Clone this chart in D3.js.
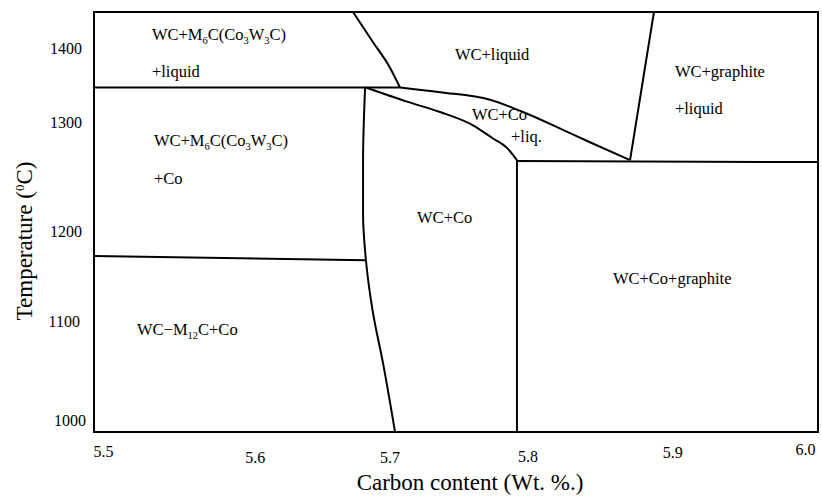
<!DOCTYPE html>
<html>
<head>
<meta charset="utf-8">
<script src="https://cdn.jsdelivr.net/npm/d3@7"></script>
<style>
  body { margin: 0; background: #fff; }
</style>
</head>
<body>
<div id="chart"></div>
<script>
const width = 822;
const height = 496;
const margin = { top: 12, right: 4, bottom: 64, left: 94 };
const serif = "'Liberation Serif', 'Times New Roman', serif";

// Axis ticks
const xTicks = [5.5, 5.6, 5.7, 5.8, 5.9, 6.0];
const yTicks = [1000, 1100, 1200, 1300, 1400];

// Phase boundaries, [carbon wt.%, temperature °C]
const eutecticLeft = [[5.5, 1350], [5.7113, 1350]];
const liquidusLeft = [[5.6789, 1430], [5.6927, 1398], [5.7044, 1371], [5.7113, 1350]];
const liquidusUpper = [[5.7113, 1350], [5.7390, 1345], [5.7735, 1337], [5.7963, 1324],
                       [5.8198, 1308], [5.8425, 1292], [5.8702, 1273]];
const liquidusLower = [[5.6878, 1350], [5.7162, 1335], [5.7390, 1324], [5.7617, 1310],
                       [5.7756, 1296], [5.7852, 1286], [5.7921, 1273]];
const solvusLeft = [[5.6872, 1350], [5.6858, 1270], [5.6858, 1217], [5.6878, 1167],
                    [5.6927, 1111], [5.6996, 1058], [5.7079, 985]];
const m12cLine = [[5.5, 1171.5], [5.6878, 1167]];
const graphiteVertical = [[5.7921, 1273], [5.7921, 985]];
const graphiteHorizontal = [[5.7921, 1272], [6.0, 1271]];
const graphiteLiquidus = [[5.8702, 1273], [5.8867, 1430]];

const curvedX = [liquidusLeft, liquidusUpper, liquidusLower];
const curvedY = [solvusLeft];
const straight = [eutecticLeft, m12cLine, graphiteVertical, graphiteHorizontal, graphiteLiquidus];

// Region labels: text (_n = subscript), carbon, temperature
const labelText = ["WC+M_6C(Co_3W_3C)", "+liquid", "WC+M_6C(Co_3W_3C)", "+Co",
                   "WC+liquid", "WC+Co", "+liq.", "WC+graphite", "+liquid",
                   "WC+Co", "WC+Co+graphite", "WC\u2212M_12C+Co"];
const labelC = [5.540, 5.540, 5.5414, 5.5414, 5.7493, 5.7610, 5.7880, 5.9012, 5.9012,
                5.7231, 5.8584, 5.5297];
const labelT = [1400, 1361, 1288, 1248, 1379, 1316, 1292, 1361, 1322, 1206, 1142, 1088];

// per-tick label nudges (the source figure's labels are hand placed)
const xTickNudge = [[9, 0], [16, 6], [6, 6], [-1, 5], [-1, 1], [-13, -2]];
const yTickNudge = [[4, 3], [-2, -1.6], [0, 2.8], [0, -12.8], [0, 7.6]];

const x = d3.scaleLinear().domain([5.5, 6.0]).range([margin.left, width - margin.right]);
const y = d3.scaleLinear().domain([985, 1430]).range([height - margin.bottom, margin.top]);

const svg = d3.create("svg")
    .attr("width", width)
    .attr("height", height)
    .attr("font-family", serif);

// Boundaries
const lineX = d3.line().x(d => x(d[0])).y(d => y(d[1])).curve(d3.curveMonotoneX);
const lineY = d3.line().x(d => x(d[0])).y(d => y(d[1])).curve(d3.curveMonotoneY);
const lineStraight = d3.line().x(d => x(d[0])).y(d => y(d[1]));

const boundaries = svg.append("g")
    .attr("fill", "none")
    .attr("stroke", "#000")
    .attr("stroke-width", 2);

boundaries.selectAll("path.cx").data(curvedX).join("path").attr("class", "cx").attr("d", lineX);
boundaries.selectAll("path.cy").data(curvedY).join("path").attr("class", "cy").attr("d", lineY);
boundaries.selectAll("path.st").data(straight).join("path").attr("class", "st").attr("d", lineStraight);

// Frame
boundaries.append("rect")
    .attr("x", x(5.5))
    .attr("y", y(1430))
    .attr("width", x(6.0) - x(5.5))
    .attr("height", y(985) - y(1430));

// Axes
const xAxis = svg.append("g")
    .attr("transform", `translate(0,${y(985)})`)
    .call(d3.axisBottom(x).tickValues(xTicks).tickFormat(d3.format(".1f")).tickSize(0).tickPadding(14))
    .attr("font-family", serif)
    .attr("font-size", 16);
xAxis.select(".domain").remove();
xAxis.selectAll("text")
    .attr("fill", "#000")
    .attr("dx", (d, i) => xTickNudge[i][0])
    .attr("y", (d, i) => 14 + xTickNudge[i][1]);

const yAxis = svg.append("g")
    .attr("transform", `translate(${x(5.5)},0)`)
    .call(d3.axisLeft(y).tickValues(yTicks).tickFormat(d3.format("d")).tickSize(0).tickPadding(12))
    .attr("font-family", serif)
    .attr("font-size", 16);
yAxis.select(".domain").remove();
yAxis.selectAll("text")
    .attr("fill", "#000")
    .attr("x", (d, i) => -12 + yTickNudge[i][0])
    .attr("dy", (d, i) => 5.1 + yTickNudge[i][1]);

// Axis titles
svg.append("text")
    .attr("x", 470)
    .attr("y", 490)
    .attr("text-anchor", "middle")
    .attr("font-size", 23)
    .text("Carbon content (Wt. %.)");

const yTitle = svg.append("text")
    .attr("transform", "translate(32,241) rotate(-90)")
    .attr("text-anchor", "middle")
    .attr("font-size", 23);
yTitle.append("tspan").text("Temperature (");
yTitle.append("tspan").attr("font-size", 13).attr("dy", -8).text("0");
yTitle.append("tspan").attr("dy", 8).text("C)");

// Region labels with subscripts
const labels = svg.append("g")
    .selectAll("text")
    .data(labelText.map((t, i) => ({ t, c: labelC[i], T: labelT[i] })))
    .join("text")
    .attr("x", d => x(d.c))
    .attr("y", d => y(d.T))
    .attr("font-size", 16.5);

labels.each(function(d) {
    const el = d3.select(this);
    const parts = d.t.split(/_(\d+)/);
    let shifted = false;
    parts.forEach((p, i) => {
        if (!p) return;
        const sub = i % 2 === 1;
        const ts = el.append("tspan").text(p);
        if (sub) {
            ts.attr("font-size", 10.5).attr("dy", 4);
            shifted = true;
        } else if (shifted) {
            ts.attr("dy", -4);
            shifted = false;
        }
    });
});

document.querySelector("#chart").append(svg.node());
</script>
</body>
</html>
